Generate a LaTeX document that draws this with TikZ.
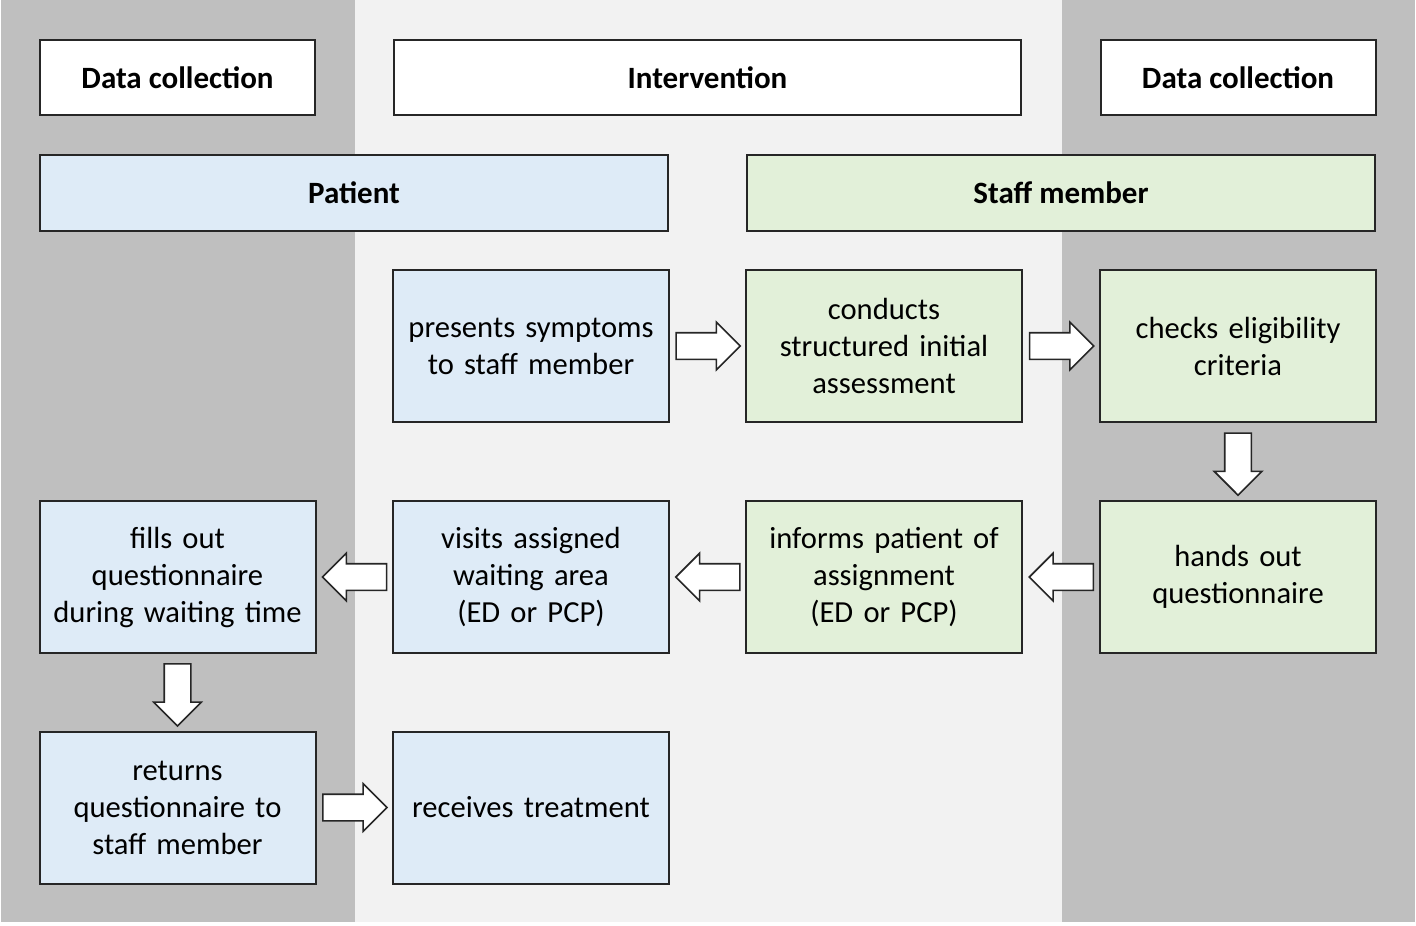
\documentclass[tikz,border=0pt]{standalone}
\usepackage{fontspec}
\setmainfont{Carlito}
\usetikzlibrary{shapes.arrows,calc}
\definecolor{darkbg}{HTML}{BFBFBF}
\definecolor{lightbg}{HTML}{F2F2F2}
\definecolor{pblue}{HTML}{DEEBF7}
\definecolor{sgreen}{HTML}{E2F0D9}
\definecolor{edge}{HTML}{262626}
\tikzset{
  box/.style={draw=edge, line width=1pt, inner sep=2pt, align=center, font=\fontsize{15.3}{18.5}\selectfont},
  head/.style={box, fill=white, minimum width=137.5pt, minimum height=37.5pt, font=\fontsize{15.5}{18.5}\selectfont\bfseries},
  band/.style={box, minimum width=314pt, minimum height=38pt, font=\fontsize{15.5}{18.5}\selectfont\bfseries},
  pbox/.style={box, fill=pblue, minimum width=137.5pt, minimum height=76pt, text width=134pt},
  sbox/.style={box, fill=sgreen, minimum width=137.5pt, minimum height=76pt, text width=134pt},
  barrow/.style={single arrow, draw=edge, fill=white, line width=0.8pt, inner sep=0pt,
    text height=12.5pt, text depth=0pt, text width=0pt,
    minimum height=32pt, minimum width=23pt, single arrow head extend=5.25pt,
    single arrow tip angle=90},
}
\begin{document}
\begin{tikzpicture}[x=0.5pt,y=-0.5pt]
\useasboundingbox (0,0) rectangle (1416,925);
\fill[white] (0,0) rectangle (1416,925);
\fill[darkbg] (1,0) rectangle (354.5,922);
\fill[lightbg] (354.5,0) rectangle (1062,922);
\fill[darkbg] (1062,0) rectangle (1415,922);

\node[head] (dc1) at (177.5,77.5) {Data collection};
\node[head, minimum width=313.5pt] (interv) at (707.5,77.5) {Intervention};
\node[head] (dc2) at (1238,77.5) {Data collection};
\node[band, fill=pblue] (patient) at (354,193) {Patient};
\node[band, fill=sgreen] (staff) at (1061,193) {Staff member};

\node[pbox] (presents) at (531,346) {presents symptoms\\to staff member};
\node[sbox] (conducts) at (884,346) {conducts\\structured initial\\assessment};
\node[sbox] (checks) at (1238,346) {checks eligibility\\criteria};
\node[pbox] (fills) at (177.5,577) {fills out\\questionnaire\\during waiting time};
\node[pbox] (visits) at (531,577) {visits assigned\\waiting area\\(ED or PCP)};
\node[sbox] (informs) at (884,577) {informs patient of\\assignment\\(ED or PCP)};
\node[sbox] (hands) at (1238,577) {hands out\\questionnaire};
\node[pbox] (returns) at (177.5,807.5) {returns\\questionnaire to\\staff member};
\node[pbox] (receives) at (531,807.5) {receives treatment};

\node[barrow] (a1) at ($(presents.east)!0.5!(conducts.west)+(-6,0)$) {};
\node[barrow] (a2) at ($(conducts.east)!0.5!(checks.west)+(-6,0)$) {};
\node[barrow, rotate=-90, minimum height=31pt] (a3) at ($(checks.south)!0.5!(hands.north)+(0,-4)$) {};
\node[barrow, rotate=180] (a4) at ($(hands.west)!0.5!(informs.east)+(7,0)$) {};
\node[barrow, rotate=180] (a5) at ($(informs.west)!0.5!(visits.east)+(7,0)$) {};
\node[barrow, rotate=180] (a6) at ($(visits.west)!0.5!(fills.east)+(7,0)$) {};
\node[barrow, rotate=-90, minimum height=31pt] (a7) at ($(fills.south)!0.5!(returns.north)+(0,-4)$) {};
\node[barrow] (a8) at ($(returns.east)!0.5!(receives.west)+(-6,0)$) {};
\end{tikzpicture}
\end{document}
